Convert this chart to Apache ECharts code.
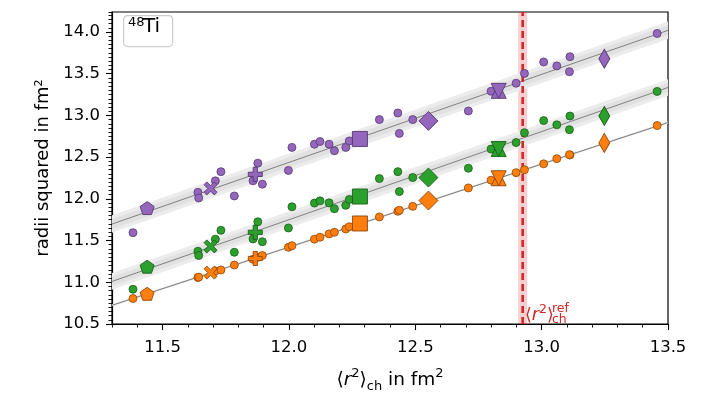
<!DOCTYPE html>
<html>
<head>
<meta charset="utf-8">
<script src="https://cdn.jsdelivr.net/npm/echarts@6/dist/echarts.min.js"></script>
<style>
  html, body { margin: 0; padding: 0; background: #fff; }
  #chart { width: 711px; height: 398px; }
</style>
</head>
<body>
<div id="chart"></div>
<script>
// <r^2>_ch of every model (shared by the three radii)
const modelX = [11.383, 11.640, 11.643, 11.709, 11.731, 11.784, 11.858, 11.877, 11.895, 11.998,
  12.012, 12.101, 12.123, 12.159, 12.180, 12.225, 12.239, 12.358, 12.431, 12.437,
  12.490, 12.710, 12.800, 12.899, 12.932, 13.008, 13.060, 13.112, 13.110, 13.457];
const purpleY = [11.595, 12.078, 12.011, 12.216, 12.326, 12.035, 12.216, 12.428, 12.176, 12.341,
  12.617, 12.655, 12.687, 12.655, 12.577, 12.617, 12.694, 12.950, 13.029, 12.785,
  12.950, 13.054, 13.290, 13.386, 13.503, 13.641, 13.594, 13.704, 13.524, 13.983];
const greenY = [10.916, 11.372, 11.321, 11.517, 11.623, 11.360, 11.520, 11.725, 11.486, 11.651,
  11.905, 11.949, 11.976, 11.952, 11.882, 11.922, 11.993, 12.243, 12.326, 12.087,
  12.255, 12.367, 12.597, 12.675, 12.793, 12.938, 12.888, 12.993, 12.829, 13.288];
const orangeY = [10.806, 11.057, 11.062, 11.135, 11.148, 11.207, 11.275, 11.300, 11.321, 11.419,
  11.439, 11.517, 11.540, 11.580, 11.599, 11.639, 11.666, 11.784, 11.851, 11.863,
  11.910, 12.131, 12.224, 12.314, 12.349, 12.420, 12.482, 12.526, 12.530, 12.879];

// highlighted models (big markers)
const refX = [11.439, 11.690, 11.867, 12.281, 12.552, 12.830, 12.830, 13.248];
const refPurple = [11.890, 12.125, 12.294, 12.718, 12.934, 13.295, 13.295, 13.680];
const refGreen = [11.187, 11.430, 11.599, 12.028, 12.255, 12.597, 12.597, 12.993];
const refOrange = [10.862, 11.116, 11.285, 11.705, 11.980, 12.247, 12.247, 12.671];

// linear fits, evaluated at the plot edges, and their band half widths
const fitX = [11.3, 13.5];
const fitPurple = [11.698, 14.020];
const fitGreen = [11.010, 13.335];
const fitOrange = [10.724, 12.915];
const bandPurple = [0.105, 0.06];
const bandGreen = [0.1, 0.055];
const bandOrange = [0.012, 0.006];

// reference charge radius
const refRadius = 12.925;
const refRadiusErr = 0.018;

const xTicks = [11.5, 12.0, 12.5, 13.0, 13.5];
const yTicks = [10.5, 11.0, 11.5, 12.0, 12.5, 13.0, 13.5, 14.0];

const FONT = "DejaVu Sans";
const C = { purple: "#9467bd", green: "#2ca02c", orange: "#ff7f0e", red: "#d62728" };
const EDGE = { purple: "#553873", green: "#185e18", orange: "#8f4607" };

// marker shapes for the highlighted models
const pentagon = "path://M0,-1L0.951,-0.309L0.588,0.809L-0.588,0.809L-0.951,-0.309Z";
const plus = "path://M-1,-0.3L-0.3,-0.3L-0.3,-1L0.3,-1L0.3,-0.3L1,-0.3L1,0.3L0.3,0.3L0.3,1L-0.3,1L-0.3,0.3L-1,0.3Z";
const cross = "path://M-1,-0.58L-0.58,-1L0,-0.42L0.58,-1L1,-0.58L0.42,0L1,0.58L0.58,1L0,0.42L-0.58,1L-1,0.58L-0.42,0Z";
const triDown = "path://M-1,-1L1,-1L0,1Z";
const refSymbols = [pentagon, cross, plus, "rect", "diamond", "triangle", triDown, "diamond"];
const refSizes = [[14, 13], [13, 13], [14, 14], [15, 15], [19, 19], [15, 15], [15, 15], [11, 19]];

// confidence band of a fit, drawn as a polygon through the axis scales
function band(fit, hw, color) {
  return {
    type: "custom", silent: true, z: 1, clip: true,
    encode: { x: [0, 3], y: [1, 2, 4, 5] },
    data: [[fitX[0], fit[0] - hw, fit[0] + hw, fitX[1], fit[1] - hw, fit[1] + hw]],
    renderItem: function (params, api) {
      const p1 = api.coord([api.value(0), api.value(1)]);
      const p2 = api.coord([api.value(0), api.value(2)]);
      const p3 = api.coord([api.value(3), api.value(5)]);
      const p4 = api.coord([api.value(3), api.value(4)]);
      return { type: "polygon", shape: { points: [p1, p2, p3, p4] }, style: { fill: color } };
    }
  };
}

function fitLine(fit) {
  return {
    type: "line", silent: true, symbol: "none", z: 2,
    data: fitX.map((x, i) => [x, fit[i]]),
    lineStyle: { color: "#808080", width: 1 }
  };
}

function dots(ys, key) {
  return {
    type: "scatter", z: 4, symbol: "circle", symbolSize: 8,
    data: modelX.map((x, i) => [x, ys[i]]),
    itemStyle: { color: C[key], borderColor: EDGE[key], borderWidth: 0.8, opacity: 1 }
  };
}

function bigMarkers(ys, key) {
  return {
    type: "scatter", z: 5,
    data: refX.map((x, i) => ({ value: [x, ys[i]], symbol: refSymbols[i], symbolSize: refSizes[i] })),
    itemStyle: { color: C[key], borderColor: EDGE[key], borderWidth: 0.9, opacity: 1 }
  };
}

const chart = echarts.init(document.getElementById("chart"));
const labelStyle = { color: "#000", fontFamily: FONT, fontSize: 16.5 };

const series = [
  band(fitPurple, bandPurple[0], "#ececec"),
  band(fitGreen, bandGreen[0], "#ececec"),
  band(fitPurple, bandPurple[1], "#e1e1e1"),
  band(fitGreen, bandGreen[1], "#e1e1e1"),
  band(fitOrange, bandOrange[0], "#e1e1e1"),
  fitLine(fitPurple), fitLine(fitGreen), fitLine(fitOrange),
  {
    type: "line", silent: true, symbol: "none", z: 3,
    data: [[refRadius, 10.5], [refRadius, 14.24]],
    lineStyle: { color: C.red, width: 2.6, type: [7, 4] },
    markArea: {
      silent: true,
      itemStyle: { color: "rgba(214,39,40,0.22)" },
      data: [[{ xAxis: refRadius - refRadiusErr }, { xAxis: refRadius + refRadiusErr }]]
    }
  },
  dots(purpleY, "purple"), dots(greenY, "green"), dots(orangeY, "orange"),
  bigMarkers(refPurple, "purple"), bigMarkers(refGreen, "green"), bigMarkers(refOrange, "orange")
];

const sup = { fontSize: 13, fontFamily: FONT, color: "#000", verticalAlign: "top", lineHeight: 14 };
const sub = { fontSize: 13, fontFamily: FONT, color: "#000", verticalAlign: "bottom", lineHeight: 14 };

const option = {
  animation: false,
  backgroundColor: "#fff",
  grid: {
    left: 112, right: 43, top: 12, bottom: 69,
    show: true, borderColor: "#000", borderWidth: 1.2, backgroundColor: "transparent"
  },
  xAxis: [
    {
      type: "value", min: 11.3, max: 13.5, position: "bottom",
      name: "{b|⟨}{i|r}{s|2}{b|⟩}{d|ch}{b| in fm}{s|2}",
      nameLocation: "middle", nameGap: 43,
      nameTextStyle: {
        rich: {
          b: { fontSize: 18.5, fontFamily: FONT, color: "#000", lineHeight: 26 },
          i: { fontSize: 18.5, fontFamily: FONT, fontStyle: "italic", color: "#000", lineHeight: 26 },
          s: sup,
          d: sub
        }
      },
      axisLine: { show: true, lineStyle: { color: "#000", width: 1.2 } },
      axisTick: { show: true, length: 6, lineStyle: { color: "#000", width: 1.1 }, customValues: xTicks },
      axisLabel: { ...labelStyle, margin: 15, customValues: xTicks, formatter: (v) => v.toFixed(1) },
      splitLine: { show: false }
    },
    {
      type: "value", min: 11.3, max: 13.5, interval: 0.1, position: "bottom",
      axisLine: { show: false },
      axisTick: { show: true, length: 3.5, lineStyle: { color: "#000", width: 0.9 } },
      axisLabel: { show: false },
      splitLine: { show: false }
    }
  ],
  yAxis: [
    {
      type: "value", min: 10.5, max: 14.24, position: "left",
      name: "radii squared in fm²",
      nameLocation: "middle", nameGap: 54,
      nameTextStyle: { color: "#000", fontFamily: FONT, fontSize: 18 },
      axisLine: { show: true, lineStyle: { color: "#000", width: 1.2 } },
      axisTick: { show: true, length: 6, lineStyle: { color: "#000", width: 1.1 }, customValues: yTicks },
      axisLabel: { ...labelStyle, margin: 12, customValues: yTicks, formatter: (v) => v.toFixed(1) },
      splitLine: { show: false }
    },
    {
      type: "value", min: 10.5, max: 14.24, interval: 0.05, position: "left",
      axisLine: { show: false },
      axisTick: { show: true, length: 3.5, lineStyle: { color: "#000", width: 0.9 } },
      axisLabel: { show: false },
      splitLine: { show: false }
    }
  ],
  graphic: [
    // legend box with the nucleus name
    {
      type: "rect", left: 123, top: 15, z: 100,
      shape: { width: 49, height: 31, r: 4 },
      style: { fill: "rgba(255,255,255,0.85)", stroke: "#cccccc", lineWidth: 1.2 }
    },
    { type: "text", left: 128, top: 16, z: 101, style: { text: "48", font: "13px DejaVu Sans", fill: "#000" } },
    { type: "text", left: 143, top: 17, z: 101, style: { text: "Ti", font: "20px DejaVu Sans", fill: "#000" } },
    // label of the reference radius
    {
      type: "text", left: 525, top: 303, z: 101,
      style: {
        text: "{b|⟨}{i|r}{s|2}{b|⟩}",
        rich: {
          b: { fontSize: 17.5, fontFamily: FONT, fill: C.red, lineHeight: 24 },
          i: { fontSize: 17.5, fontFamily: FONT, fontStyle: "italic", fill: C.red, lineHeight: 24 },
          s: { fontSize: 12.5, fontFamily: FONT, fill: C.red, verticalAlign: "top", lineHeight: 13 }
        }
      }
    },
    { type: "text", left: 552, top: 302, z: 101, style: { text: "ref", font: "12.5px DejaVu Sans", fill: C.red } },
    { type: "text", left: 552, top: 313.5, z: 101, style: { text: "ch", font: "12.5px DejaVu Sans", fill: C.red } }
  ],
  series: series
};

chart.setOption(option);
</script>
</body>
</html>
